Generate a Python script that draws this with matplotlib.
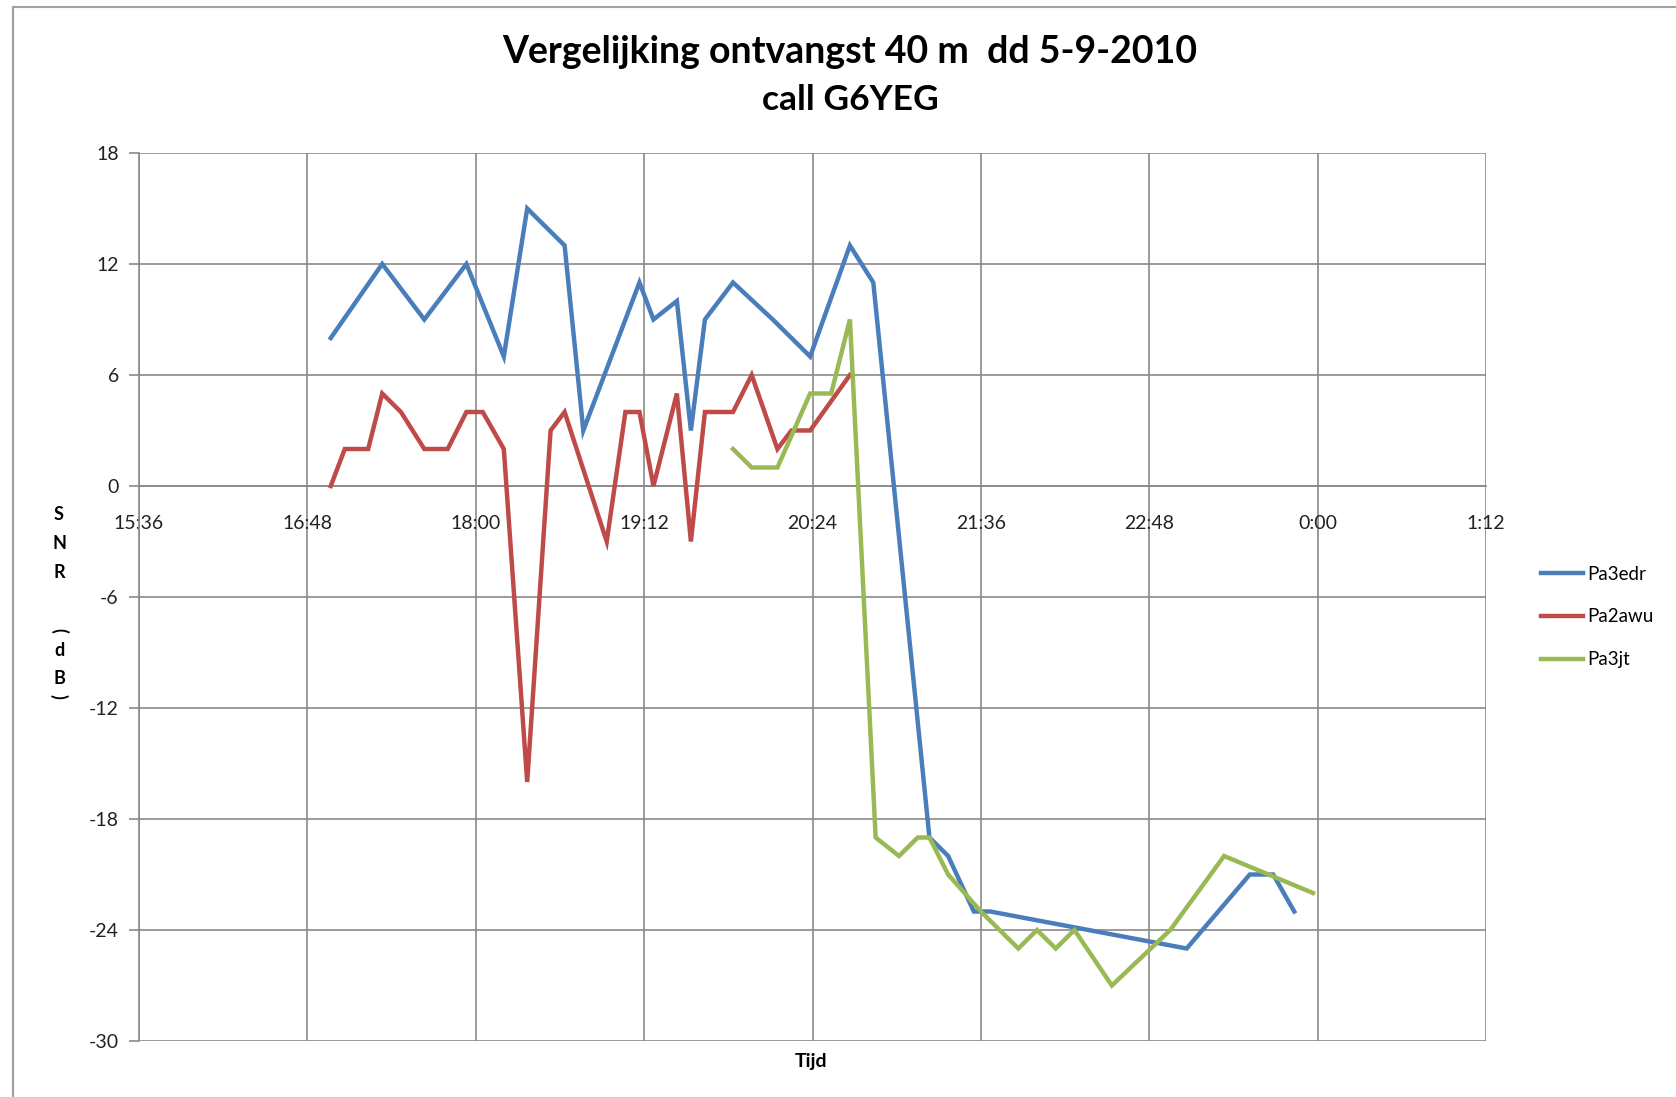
import matplotlib
matplotlib.use("Agg")
import matplotlib.pyplot as plt
from matplotlib.lines import Line2D

# data (time of day, SNR in dB)
blue_times = ["16:58", "17:20", "17:38", "17:56", "18:12", "18:22", "18:38", "18:46", "19:10", "19:16",
              "19:26", "19:32", "19:38", "19:50", "20:07", "20:23", "20:40", "20:50", "21:14", "21:22",
              "21:33", "21:40", "23:04", "23:31", "23:41", "23:50"]
blue_vals = [8, 12, 9, 12, 7, 15, 13, 3, 11, 9,
             10, 3, 9, 11, 9, 7, 13, 11, -19, -20,
             -23, -23, -25, -21, -21, -23]

red_times = ["16:58", "17:04", "17:14", "17:20", "17:28", "17:38", "17:48", "17:56", "18:03", "18:12",
             "18:22", "18:32", "18:38", "18:56", "19:04", "19:10", "19:16", "19:26", "19:32", "19:38",
             "19:50", "19:58", "20:09", "20:15", "20:23", "20:40"]
red_vals = [0, 2, 2, 5, 4, 2, 2, 4, 4, 2,
            -16, 3, 4, -3, 4, 4, 0, 5, -3, 4,
            4, 6, 2, 3, 3, 6]

green_times = ["19:50", "19:58", "20:09", "20:23", "20:32", "20:40", "20:51", "21:01", "21:09", "21:14",
               "21:22", "21:36", "21:52", "22:00", "22:08", "22:16", "22:32", "22:57", "23:20", "23:58"]
green_vals = [2, 1, 1, 5, 5, 9, -19, -20, -19, -19,
              -21, -23, -25, -24, -25, -24, -27, -24, -20, -22]

x_ticklabels = ["15:36", "16:48", "18:00", "19:12", "20:24", "21:36", "22:48", "0:00", "1:12"]
y_ticks = [-30, -24, -18, -12, -6, 0, 6, 12, 18]
series_names = ["Pa3edr", "Pa2awu", "Pa3jt"]
colors = ["#4A7EBB", "#BE4B48", "#98B954"]


def to_hours(t):
    h, m = map(int, t.split(":"))
    v = h + m / 60.0
    if h < 12:          # after midnight
        v += 24
    return v


plt.rcParams['font.family'] = ['Lato', 'DejaVu Sans']

fig = plt.figure(figsize=(16.76, 10.97), dpi=100)
W, H = 1676.0, 1097.0
ax = fig.add_axes([139 / W, 1 - 1041 / H, (1486 - 139) / W, (1041 - 153) / H])

grid_col = "#8a8a8a"
for times, vals, c, name in zip([blue_times, red_times, green_times],
                                [blue_vals, red_vals, green_vals], colors, series_names):
    ax.plot([to_hours(t) for t in times], vals, color=c, lw=3.2, label=name,
            solid_joinstyle='miter', zorder=3)

x_ticks = [to_hours(t) for t in x_ticklabels]
ax.set_xlim(x_ticks[0], x_ticks[-1])
ax.set_ylim(-30, 18)
ax.set_xticks(x_ticks)
ax.set_xticklabels(x_ticklabels)
ax.set_yticks(y_ticks)
ax.set_yticklabels([str(v) for v in y_ticks])
ax.grid(True, color=grid_col, lw=1.2)
ax.set_axisbelow(True)

for s in ["top", "right"]:
    ax.spines[s].set_visible(False)
ax.spines["left"].set_color(grid_col)
ax.spines["left"].set_linewidth(1.2)
ax.spines["bottom"].set_position(("data", 0))
ax.spines["bottom"].set_color(grid_col)
ax.spines["bottom"].set_linewidth(1.2)

ax.tick_params(axis="x", length=0, pad=21, labelsize=14, labelcolor="#222222")
ax.tick_params(axis="y", length=7, width=1.2, color=grid_col, pad=7.5, labelsize=14,
               labelcolor="#222222")

# title
fig.text(850 / W, 1 - 52 / H, "Vergelijking ontvangst 40 m  dd 5-9-2010", ha="center", va="center",
         fontsize=27, fontweight="bold")
fig.text(850 / W, 1 - 100 / H, "call G6YEG", ha="center", va="center",
         fontsize=25.5, fontweight="bold")

# x label
fig.text(811 / W, 1 - 1061 / H, "Tijd", ha="center", va="center", fontsize=14, fontweight="bold")

# stacked y label
ylab = [("S", 514, 0), ("N", 543, 0), ("R", 573, 0), ("(", 630, -90), ("d", 650, 0), ("B", 678, 0), (")", 696, -90)]
for ch, yy, rot in ylab:
    fig.text(59 / W, 1 - yy / H, ch, ha="center", va="center", fontsize=13, fontweight="bold",
             rotation=rot)

# legend
handles = [Line2D([0], [0], color=c, lw=3.2) for c in colors]
fig.legend(handles, series_names, loc="center left", bbox_to_anchor=(1524 / W, 1 - 617 / H),
           frameon=False, fontsize=13.5, handlelength=2.25, handletextpad=0.2, labelspacing=1.37,
           borderpad=0.4)

# outer chart border (left and top visible)
fig.add_artist(Line2D([13 / W, 13 / W], [1 - 7 / H, 0], transform=fig.transFigure, color="#a0a0a0", lw=1.5))
fig.add_artist(Line2D([13 / W, 1], [1 - 7 / H, 1 - 7 / H], transform=fig.transFigure, color="#a0a0a0", lw=1.5))

fig.savefig("out.png", dpi=100)
